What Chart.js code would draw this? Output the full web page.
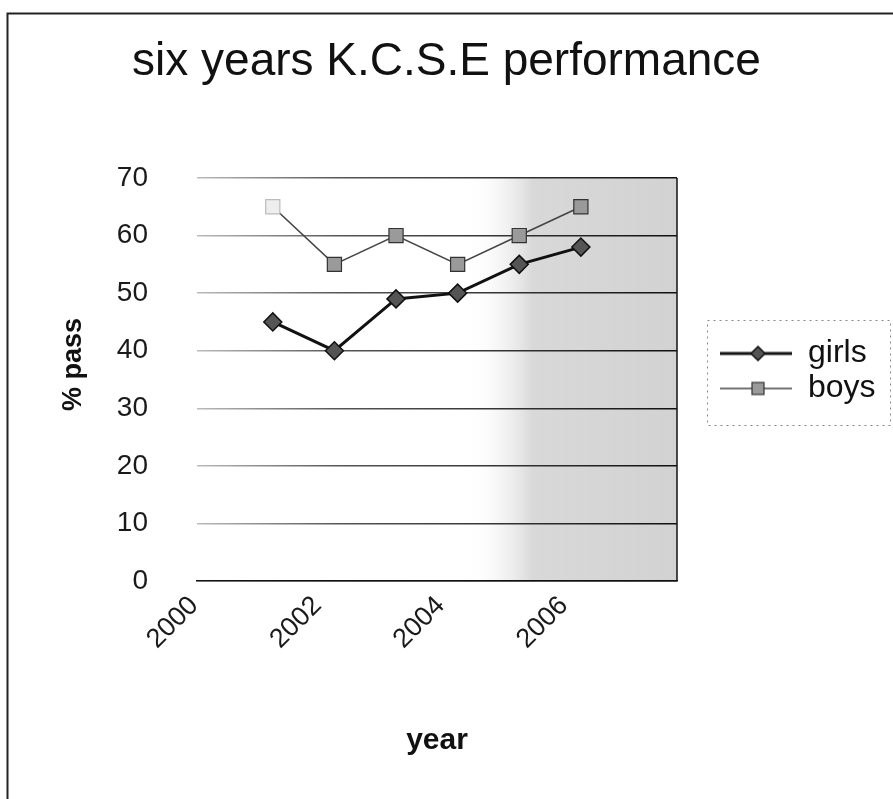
<!DOCTYPE html>
<html><head><meta charset="utf-8">
<script src="https://cdn.jsdelivr.net/npm/chart.js@4.4.0/dist/chart.umd.min.js"></script>
<style>html,body{margin:0;padding:0;background:#fff;}#wrap{width:893px;height:799px;}</style>
</head><body><div id="wrap"><canvas id="c" width="893" height="799"></canvas></div>
<script>
const years = [2001, 2002, 2003, 2004, 2005, 2006];
const girls = [45, 40, 49, 50, 55, 58];
const boys = [65, 55, 60, 55, 60, 65];
const xTickValues = [2000, 2002, 2004, 2006];
const seriesNames = ['girls', 'boys'];

const FONT = "'Liberation Sans', Arial, sans-serif";

function legendIcon(kind) {
  const cv = document.createElement('canvas');
  cv.width = 112; cv.height = 20;
  const g = cv.getContext('2d');
  g.strokeStyle = kind === 'girls' ? '#111' : '#444';
  g.lineWidth = kind === 'girls' ? 3 : 1.6;
  g.beginPath(); g.moveTo(40, 10); g.lineTo(112, 10); g.stroke();
  if (kind === 'girls') {
    g.fillStyle = '#555'; g.strokeStyle = '#111'; g.lineWidth = 1.5;
    g.beginPath(); g.moveTo(78, 3); g.lineTo(85, 10); g.lineTo(78, 17); g.lineTo(71, 10); g.closePath();
    g.fill(); g.stroke();
  } else {
    g.fillStyle = '#9a9a9a'; g.strokeStyle = '#333'; g.lineWidth = 1.2;
    g.fillRect(72, 4, 12, 12); g.strokeRect(72, 4, 12, 12);
  }
  return cv;
}
const icons = { girls: legendIcon('girls'), boys: legendIcon('boys') };

const framePlugin = {
  id: 'frame',
  beforeDraw(chart) {
    const {ctx, chartArea: a} = chart;
    const grd = ctx.createLinearGradient(a.left, 0, a.right, 0);
    grd.addColorStop(0, 'rgba(255,255,255,0)');
    grd.addColorStop(0.56, 'rgba(255,255,255,0)');
    grd.addColorStop(0.7, 'rgba(200,200,200,0.7)');
    grd.addColorStop(1, 'rgba(195,195,195,0.75)');
    ctx.save();
    ctx.fillStyle = grd;
    ctx.fillRect(a.left, a.top, a.right - a.left, a.bottom - a.top);
    ctx.restore();
  },
  afterDraw(chart) {
    const {ctx, chartArea: a} = chart;
    ctx.save();
    ctx.strokeStyle = '#222'; ctx.lineWidth = 2;
    ctx.beginPath();
    ctx.moveTo(7.5, 799); ctx.lineTo(7.5, 13.5); ctx.lineTo(893, 13.5);
    ctx.stroke();
    ctx.lineWidth = 1.5; ctx.strokeStyle = '#111';
    ctx.beginPath(); ctx.moveTo(a.right, a.top); ctx.lineTo(a.right, a.bottom); ctx.stroke();
    const lg = chart.legend;
    if (lg && lg.legendHitBoxes && lg.legendHitBoxes.length) {
      const hb = lg.legendHitBoxes;
      const x0 = 707, y0 = hb[0].top - 18;
      const y1 = hb[hb.length - 1].top + hb[hb.length - 1].height + 20;
      ctx.setLineDash([2, 4]); ctx.strokeStyle = '#888'; ctx.lineWidth = 1;
      ctx.strokeRect(x0 + 0.5, Math.round(y0) + 0.5, 890 - x0, Math.round(y1 - y0));
    }
    ctx.restore();
  }
};

const pinLegend = {
  id: 'pinLegend',
  beforeLayout(chart) {
    const lg = chart.legend;
    if (lg && !lg._pinned) {
      const f = lg.fit.bind(lg);
      lg.fit = function () { f(); this.width = 216; };
      lg._pinned = true;
    }
  },
  afterLayout(chart) {
    const lg = chart.legend;
    if (lg) { lg.bottom -= 17; lg.height = lg.bottom - lg.top; }
  }
};

function gridGradient(ctx) {
  const chart = ctx.chart; const a = chart.chartArea;
  if (!a) return '#333';
  const g = chart.ctx.createLinearGradient(a.left, 0, a.right, 0);
  g.addColorStop(0, '#bbb');
  g.addColorStop(0.3, '#555');
  g.addColorStop(1, '#111');
  return g;
}

new Chart(document.getElementById('c'), {
  type: 'line',
  data: {
    datasets: [
      {
        label: seriesNames[0],
        data: years.map((y, i) => ({x: y, y: girls[i]})),
        borderColor: '#111', borderWidth: 3,
        pointStyle: 'rectRot', pointRadius: 9, pointHoverRadius: 9,
        pointBackgroundColor: '#555', pointBorderColor: '#111', pointBorderWidth: 1.5,
        tension: 0, fill: false
      },
      {
        label: seriesNames[1],
        data: years.map((y, i) => ({x: y, y: boys[i]})),
        borderColor: '#444', borderWidth: 1.6,
        pointStyle: 'rect', pointRadius: 10, pointHoverRadius: 10,
        pointBackgroundColor: c => c.dataIndex === 0 ? '#eeeeee' : '#9a9a9a',
        pointBorderColor: c => c.dataIndex === 0 ? '#bbbbbb' : '#333',
        pointBorderWidth: 1.2,
        tension: 0, fill: false
      }
    ]
  },
  options: {
    responsive: false,
    animation: false,
    devicePixelRatio: 1,
    layout: { padding: 0 },
    plugins: {
      title: {
        display: true,
        text: 'six years K.C.S.E performance',
        color: '#111',
        font: { family: FONT, size: 46, weight: 'normal' },
        padding: { top: 35, bottom: 87.8 }
      },
      legend: {
        display: true, position: 'right', align: 'center', fullSize: false,
        labels: {
          usePointStyle: true, pointStyleWidth: 112, padding: 3,
          color: '#111', font: { family: FONT, size: 32 },
          generateLabels(chart) {
            const items = Chart.defaults.plugins.legend.labels.generateLabels(chart);
            items.forEach(it => { it.pointStyle = icons[it.text]; });
            return items;
          }
        }
      },
      tooltip: { enabled: false }
    },
    scales: {
      x: {
        type: 'linear',
        min: 1999.77, max: 2007.56,
        afterBuildTicks(scale) { scale.ticks = xTickValues.map(v => ({value: v})); },
        afterFit(scale) { scale.height = 218; },
        grid: { display: false, drawTicks: false },
        border: { display: true, color: '#111', width: 1.5 },
        ticks: {
          autoSkip: false, minRotation: 45, maxRotation: 45,
          labelOffset: -17, padding: 9,
          color: '#1a1a1a', font: { family: FONT, size: 27 },
          callback: v => String(v)
        },
        title: {
          display: true, text: 'year', color: '#111',
          font: { family: FONT, size: 30, weight: 'bold' },
          padding: { top: 0, bottom: 40 }
        }
      },
      y: {
        min: 0, max: 70,
        afterFit(scale) { scale.width = 197; },
        grid: { color: gridGradient, lineWidth: 1.5, drawTicks: false },
        border: { display: false },
        ticks: {
          stepSize: 10, padding: 49,
          color: '#1a1a1a', font: { family: FONT, size: 28 }
        },
        title: {
          display: true, text: '    % pass', color: '#111',
          font: { family: FONT, size: 27, weight: 'bold' },
          padding: { top: 57, bottom: 0 }
        }
      }
    }
  },
  plugins: [framePlugin, pinLegend]
});
</script>
</body></html>
